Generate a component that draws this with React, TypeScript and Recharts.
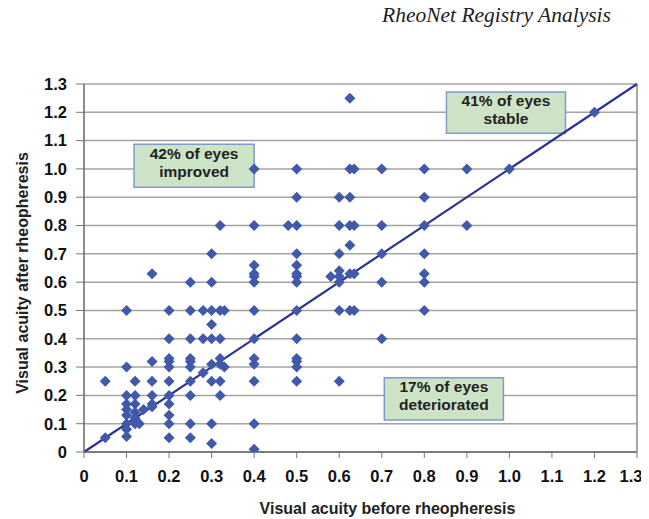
import React from 'react';
import {
  ScatterChart,
  Scatter,
  XAxis,
  YAxis,
  CartesianGrid,
  ReferenceLine,
  ReferenceArea,
} from 'recharts';

// Visual acuity before rheopheresis (x) for each column of points
const beforeColumns = [
  0.05, 0.1, 0.12, 0.13, 0.14, 0.16, 0.2, 0.25, 0.28, 0.3, 0.32, 0.33, 0.4, 0.48,
  0.5, 0.58, 0.6, 0.625, 0.635, 0.7, 0.8, 0.9, 1.0, 1.2,
];

// Visual acuity after rheopheresis (y) for each column above
const afterByColumn = [
  [0.25, 0.05],
  [0.5, 0.3, 0.2, 0.17, 0.15, 0.13, 0.1, 0.08, 0.055],
  [0.25, 0.2, 0.17, 0.14, 0.12, 0.1],
  [0.1],
  [0.15],
  [0.63, 0.32, 0.25, 0.2, 0.17, 0.16],
  [0.5, 0.4, 0.33, 0.32, 0.3, 0.25, 0.2, 0.17, 0.13, 0.1, 0.05],
  [0.6, 0.5, 0.4, 0.33, 0.32, 0.3, 0.25, 0.2, 0.1, 0.05],
  [0.5, 0.4, 0.28],
  [0.7, 0.6, 0.5, 0.45, 0.4, 0.31, 0.25, 0.1, 0.03],
  [0.8, 0.5, 0.4, 0.33, 0.31, 0.25, 0.2],
  [0.5, 0.3],
  [1.0, 0.8, 0.66, 0.63, 0.62, 0.6, 0.5, 0.4, 0.33, 0.31, 0.25, 0.1, 0.01],
  [0.8],
  [1.0, 0.9, 0.8, 0.7, 0.66, 0.63, 0.62, 0.6, 0.5, 0.4, 0.33, 0.32, 0.3, 0.25],
  [0.62],
  [0.9, 0.8, 0.7, 0.64, 0.62, 0.6, 0.5, 0.25],
  [1.25, 1.0, 0.9, 0.8, 0.73, 0.63, 0.5],
  [1.0, 0.8, 0.63, 0.5],
  [1.0, 0.8, 0.7, 0.6, 0.4],
  [1.0, 0.9, 0.8, 0.7, 0.63, 0.6, 0.5],
  [1.0, 0.8],
  [1.0],
  [1.2],
];

const axisTicks = [0, 0.1, 0.2, 0.3, 0.4, 0.5, 0.6, 0.7, 0.8, 0.9, 1.0, 1.1, 1.2, 1.3];

const identityLine = [
  { x: 0, y: 0 },
  { x: 1.3, y: 1.3 },
];

const annotations = [
  { x1: 0.1176, x2: 0.4, y1: 0.935, y2: 1.0875, lines: ['42% of eyes', 'improved'] },
  { x1: 0.852, x2: 1.132, y1: 1.126, y2: 1.272, lines: ['41% of eyes', 'stable'] },
  { x1: 0.706, x2: 0.986, y1: 0.113, y2: 0.262, lines: ['17% of eyes', 'deteriorated'] },
];

const points = beforeColumns.flatMap((x, i) => afterByColumn[i].map((y) => ({ x, y })));

const FONT = '"Liberation Sans", Arial, Helvetica, sans-serif';
const POINT_COLOR = '#4159a9';
const LINE_COLOR = '#2c3391';

const fmt = (v: number) => (v === 0 ? '0' : v.toFixed(1));

const Diamond = (props: any) => {
  const { cx, cy } = props;
  if (cx == null || cy == null) return null;
  const r = 5.5;
  return (
    <path
      d={`M${cx},${cy - r}L${cx + r},${cy}L${cx},${cy + r}L${cx - r},${cy}Z`}
      fill={POINT_COLOR}
    />
  );
};

const XTick = (props: any) => {
  const { x, y, payload, index, visibleTicksCount } = props;
  const last = index === (visibleTicksCount ?? axisTicks.length) - 1;
  return (
    <text
      x={x + (last ? -6 : 0)}
      y={y}
      dy="0.71em"
      textAnchor="middle"
      fontFamily={FONT}
      fontWeight="bold"
      fontSize={16.5}
      fill="#111"
    >
      {fmt(payload.value)}
    </text>
  );
};

const makeBoxLabel = (lines: string[]) => (props: any) => {
  const vb = props.viewBox || {};
  const cx = vb.x + vb.width / 2;
  const cy = vb.y + vb.height / 2;
  return (
    <text
      x={cx}
      y={cy}
      textAnchor="middle"
      fontFamily={FONT}
      fontWeight="bold"
      fontSize={15.5}
      fill="#222"
    >
      <tspan x={cx} y={cy - 6.5}>
        {lines[0]}
      </tspan>
      <tspan x={cx} y={cy + 11}>
        {lines[1]}
      </tspan>
    </text>
  );
};

const XTitle = (props: any) => {
  const vb = props.viewBox || { x: 76, y: 444, width: 553, height: 67 };
  return (
    <text
      x={vb.x + vb.width / 2 + 27}
      y={vb.y + 62}
      textAnchor="middle"
      fontFamily={FONT}
      fontWeight="bold"
      fontSize={16}
      fill="#222"
    >
      Visual acuity before rheopheresis
    </text>
  );
};

const YTitle = (props: any) => {
  const vb = props.viewBox || { x: 0, y: 76, width: 76, height: 368 };
  const x = vb.x + 20;
  const y = vb.y + vb.height / 2 + 5;
  return (
    <text
      x={x}
      y={y}
      transform={`rotate(-90, ${x}, ${y})`}
      textAnchor="middle"
      fontFamily={FONT}
      fontWeight="bold"
      fontSize={16}
      fill="#222"
    >
      Visual acuity after rheopheresis
    </text>
  );
};

const tickStyle = { fontFamily: FONT, fontWeight: 'bold' as const, fontSize: 16.5, fill: '#111' };

export default function App() {
  return (
    <div style={{ position: 'relative', width: 641, height: 511, background: '#fff' }}>
      <div
        style={{
          position: 'absolute',
          left: 374,
          top: -3,
          fontFamily: '"Liberation Serif", "Times New Roman", serif',
          fontStyle: 'italic',
          fontSize: 21.5,
          lineHeight: '21px',
          color: '#222',
          whiteSpace: 'nowrap',
        }}
      >
        RheoNet Registry Analysis
      </div>
      <ScatterChart
        width={641}
        height={511}
        margin={{ top: 76, right: 12, left: 0, bottom: 0 }}
        style={{ overflow: 'visible' }}
      >
        <CartesianGrid
          horizontal={true}
          vertical={false}
          stroke="#a3a3a3"
          strokeWidth={1.5}
        />
        <XAxis
          type="number"
          dataKey="x"
          domain={[0, 1.3]}
          ticks={axisTicks}
          tickFormatter={fmt}
          interval={0}
          allowDataOverflow
          height={67}
          tick={<XTick />}
          tickSize={6}
          tickMargin={12}
          axisLine={{ stroke: '#666', strokeWidth: 1.5 }}
          tickLine={{ stroke: '#777', strokeWidth: 1 }}
          label={<XTitle />}
        />
        <YAxis
          type="number"
          dataKey="y"
          domain={[0, 1.3]}
          ticks={axisTicks}
          tickFormatter={fmt}
          interval={0}
          allowDataOverflow
          width={76}
          tick={tickStyle}
          tickSize={8}
          tickMargin={9}
          axisLine={{ stroke: '#666', strokeWidth: 1.5 }}
          tickLine={{ stroke: '#777', strokeWidth: 1 }}
          label={<YTitle />}
        />
        <ReferenceLine x={1.3} stroke="#8a8a8a" strokeWidth={1.5} />
        <ReferenceLine
          segment={identityLine}
          stroke={LINE_COLOR}
          strokeWidth={2.2}
          ifOverflow="visible"
        />
        <Scatter
          data={points}
          shape={<Diamond />}
          isAnimationActive={false}
        />
        {annotations.map((a, i) => (
          <ReferenceArea
            key={i}
            x1={a.x1}
            x2={a.x2}
            y1={a.y1}
            y2={a.y2}
            fill="#cde3c6"
            fillOpacity={1}
            stroke="#7e9cc8"
            strokeWidth={1.5}
            ifOverflow="visible"
            label={makeBoxLabel(a.lines)}
          />
        ))}
      </ScatterChart>
    </div>
  );
}
